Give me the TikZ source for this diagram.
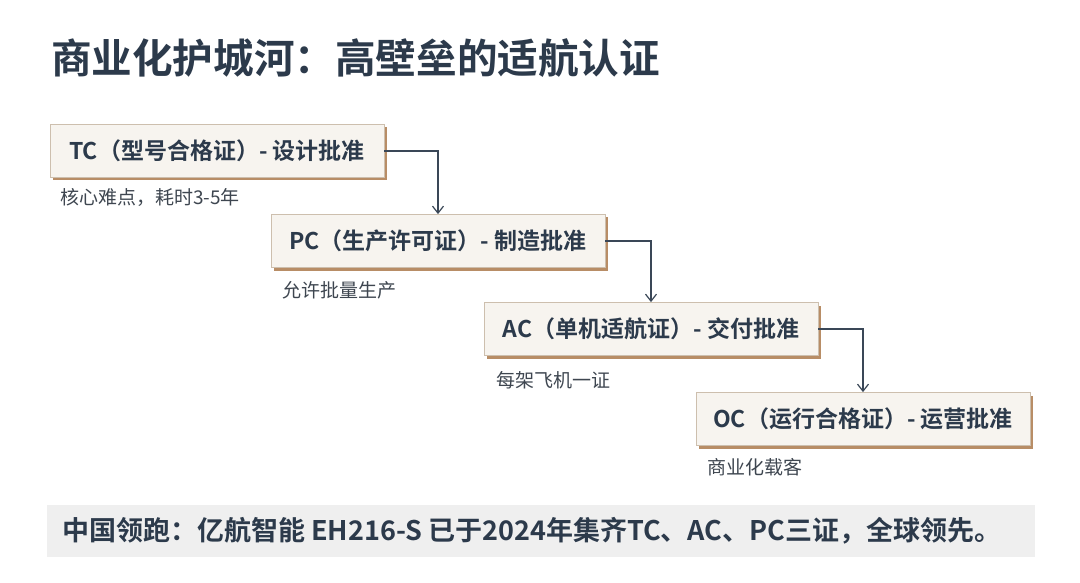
\documentclass[tikz,border=0pt]{standalone}
\usepackage{fontspec}
\setmainfont{Noto Sans CJK SC}[BoldFont={Noto Sans CJK SC Bold}]
\usetikzlibrary{arrows.meta,shadows}
\definecolor{navy}{HTML}{2C3A4B}
\definecolor{boxfill}{HTML}{F7F4EF}
\definecolor{boxline}{HTML}{CDBFAE}
\definecolor{shadowc}{HTML}{B88D66}
\definecolor{bandfill}{HTML}{EFEFEF}
\definecolor{arrowc}{HTML}{3A4757}
\definecolor{subc}{HTML}{3E4650}
\tikzset{
  stepbox/.style={draw=boxline, line width=0.8pt, fill=boxfill,
    minimum width=334pt, minimum height=53pt, inner sep=0pt,
    text=navy, font=\bfseries\fontsize{23}{27}\selectfont,
    drop shadow={shadow xshift=3pt, shadow yshift=-3pt, opacity=1, fill=shadowc}},
  subnote/.style={anchor=west, inner sep=0pt, text=subc, font=\fontsize{19}{22}\selectfont},
  flow/.style={draw=arrowc, line width=1.2pt, -{Straight Barb[length=7pt,width=11pt,line width=1.2pt]}}
}
\begin{document}
\begin{tikzpicture}[x=1pt,y=-1pt]
\useasboundingbox[fill=white] (0,0) rectangle (1080,583);
\node[anchor=west, inner sep=0pt, text=navy, font=\bfseries\fontsize{40.6}{46}\selectfont] (title) at (51,58) {商业化护城河：高壁垒的适航认证};

\node[stepbox] (tc) at (217,151) {TC（型号合格证）- 设计批准};
\node[stepbox] (pc) at (438,241) {PC（生产许可证）- 制造批准};
\node[stepbox] (ac) at (651,329) {AC（单机适航证）- 交付批准};
\node[stepbox] (oc) at (863,419) {OC（运行合格证）- 运营批准};

\node[subnote] (tcn) at (60,197) {核心难点，耗时3-5年};
\node[subnote] (pcn) at (282,290) {允许批量生产};
\node[subnote] (acn) at (496,380) {每架飞机一证};
\node[subnote] (ocn) at (707,467) {商业化载客};

\draw[flow] (tc.east) -| (pc.north);
\draw[flow] (pc.east) -| (ac.north);
\draw[flow] (ac.east) -| (oc.north);

\node[fill=bandfill, minimum width=988pt, minimum height=52pt, inner sep=0pt] (band) at (541,531) {};
\node[anchor=west, inner sep=0pt, text=navy, font=\bfseries\fontsize{27}{32}\selectfont] (bandtext) at (62,531) {中国领跑：亿航智能 EH216-S 已于2024年集齐TC、AC、PC三证，全球领先。};
\end{tikzpicture}
\end{document}
